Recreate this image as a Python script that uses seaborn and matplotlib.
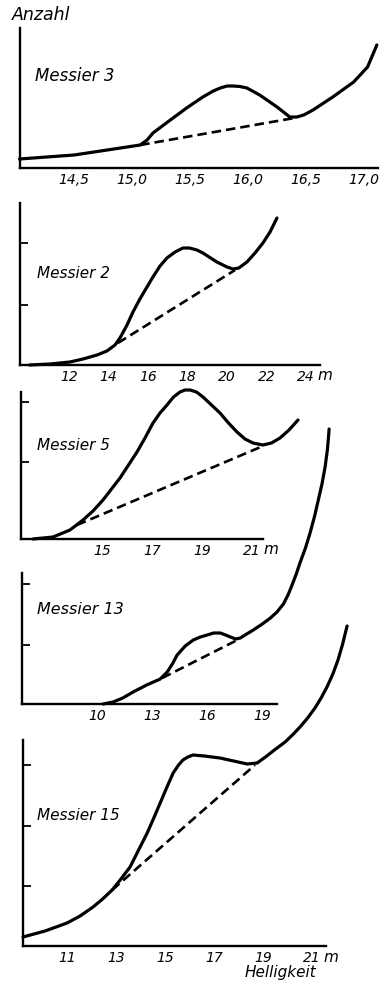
import matplotlib
matplotlib.use("Agg")
import matplotlib.pyplot as plt
import pandas as pd
import seaborn as sns

# Luminosity functions of five globular clusters: number of stars (Anzahl)
# against apparent magnitude (Helligkeit). Dashed lines mark the
# extrapolated smooth background beneath the hump.

m3_mag = [14.03, 14.50, 14.90, 15.07, 15.13, 15.18, 15.33, 15.47, 15.61, 15.70,
          15.76, 15.82, 15.87, 15.93, 15.99, 16.10, 16.25, 16.36, 16.42, 16.48,
          16.56, 16.73, 16.91, 17.03, 17.11]
m3_cnt = [9, 13, 20, 23, 28, 35, 48, 60, 71, 77,
          80, 82, 82, 81.5, 80, 73, 61, 51, 51, 53,
          58, 71, 86, 101, 123]
m3_base_mag = [15.07, 16.40]
m3_base_cnt = [23, 50]
m3_xticks = [14.5, 15.0, 15.5, 16.0, 16.5, 17.0]
m3_xlabels = ["14,5", "15,0", "15,5", "16,0", "16,5", "17,0"]
m3_yticks = []

m2_mag = [10.00, 11.04, 12.05, 12.71, 13.42, 13.92, 14.33, 14.58, 14.94, 15.24,
          15.59, 15.95, 16.25, 16.61, 16.96, 17.37, 17.77, 18.10, 18.48, 18.78,
          19.49, 20.00, 20.30, 20.60, 21.01, 21.42, 21.82, 22.18, 22.53]
m2_cnt = [0, 1, 3, 6, 10, 14, 20, 27, 40, 53,
          66, 78, 88, 99, 107, 113, 117, 117, 115, 112,
          103, 98, 96, 97, 103, 112, 122, 133, 147]
m2_base_mag = [14.48, 20.41]
m2_base_cnt = [22, 95]
m2_xticks = [12, 14, 16, 18, 20, 22, 24]
m2_xlabels = ["12", "14", "16", "18", "20", "22", "24"]
m2_yticks = [60, 122]

m5_mag = [12.24, 13.04, 13.72, 14.24, 14.64, 15.04, 15.38, 15.72, 16.06, 16.40,
          16.72, 17.04, 17.32, 17.60, 17.86, 18.12, 18.32, 18.52, 18.78, 19.04,
          19.38, 19.72, 20.06, 20.40, 20.72, 21.04, 21.44, 21.78, 22.12, 22.48,
          22.84]
m5_cnt = [0, 2, 9, 19, 28, 39, 50, 61, 74, 87,
          101, 116, 126, 134, 142, 147, 149, 149, 147, 142,
          134, 126, 116, 107, 100, 96, 94, 96, 101, 109,
          119]
m5_base_mag = [14.00, 21.44]
m5_base_cnt = [14, 93]
m5_xticks = [15, 17, 19, 21]
m5_xlabels = ["15", "17", "19", "21"]
m5_yticks = [77, 137]

m13_mag = [10.33, 10.87, 11.40, 11.96, 12.70, 13.44, 13.82, 14.10, 14.36, 14.80,
           15.24, 15.62, 16.00, 16.35, 16.71, 17.00, 17.26, 17.55, 17.80, 18.15,
           18.51, 19.00, 19.44, 19.80, 20.15, 20.40, 20.60, 20.85, 21.05, 21.35,
           21.60, 21.85, 22.05, 22.25, 22.42, 22.55, 22.64]
m13_cnt = [0, 2, 6, 12, 19, 25, 32, 40, 49, 58,
           64, 67, 69, 71, 71, 69, 67, 65, 66, 70,
           74, 80, 86, 92, 100, 109, 118, 130, 141, 156,
           171, 188, 204, 220, 237, 255, 275]
m13_base_mag = [13.55, 17.64]
m13_base_cnt = [26, 64]
m13_xticks = [10, 13, 16, 19]
m13_xlabels = ["10", "13", "16", "19"]
m13_yticks = [59, 120]

m15_mag = [9.20, 10.10, 11.00, 11.53, 12.06, 12.45, 12.84, 13.20, 13.57, 13.92,
           14.27, 14.54, 14.80, 15.06, 15.33, 15.55, 15.73, 15.93, 16.14, 16.60,
           17.24, 17.80, 18.35, 18.76, 19.10, 19.41, 19.90, 20.20, 20.51, 20.82,
           21.12, 21.37, 21.61, 21.85, 22.06, 22.25, 22.43]
m15_cnt = [9, 15, 23, 30, 39, 47, 56, 67, 79, 96,
           113, 128, 143, 158, 173, 181, 186, 189, 191, 190,
           188, 185, 182, 183, 189, 195, 204, 211, 219, 228,
           238, 248, 259, 272, 286, 302, 320]
m15_base_mag = [12.84, 18.67]
m15_base_cnt = [56, 181]
m15_xticks = [11, 13, 15, 17, 19, 21]
m15_xlabels = ["11", "13", "15", "17", "19", "21"]
m15_yticks = [60, 120, 181]

names = ["Messier 3", "Messier 2", "Messier 5", "Messier 13", "Messier 15"]

sns.set_theme(style="white")
plt.rcParams["font.family"] = ["DejaVu Sans"]
plt.rcParams["font.style"] = "italic"

W, H = 384, 983
fig = plt.figure(figsize=(W / 100, H / 100), dpi=100)
fig.patch.set_facecolor("white")


def frame(left, right, top, bottom):
    return [left / W, 1 - bottom / H, (right - left) / W, (bottom - top) / H]


def fx(px):
    return px / W


def fy(py):
    return 1 - py / H


panels = [
    dict(mag=m3_mag, cnt=m3_cnt, bmag=m3_base_mag, bcnt=m3_base_cnt,
         xt=m3_xticks, xl=m3_xlabels, yt=m3_yticks,
         rect=frame(20, 378, 28, 168), xlim=(14.034, 17.12), ylim=(0, 140),
         label=(35, 76, 12)),
    dict(mag=m2_mag, cnt=m2_cnt, bmag=m2_base_mag, bcnt=m2_base_cnt,
         xt=m2_xticks, xl=m2_xlabels, yt=m2_yticks,
         rect=frame(20, 320, 203, 365), xlim=(9.52, 24.71), ylim=(0, 162),
         label=(37, 273, 11)),
    dict(mag=m5_mag, cnt=m5_cnt, bmag=m5_base_mag, bcnt=m5_base_cnt,
         xt=m5_xticks, xl=m5_xlabels, yt=m5_yticks,
         rect=frame(21, 263, 392, 539), xlim=(11.76, 21.44), ylim=(0, 147),
         label=(37, 445, 11)),
    dict(mag=m13_mag, cnt=m13_cnt, bmag=m13_base_mag, bcnt=m13_base_cnt,
         xt=m13_xticks, xl=m13_xlabels, yt=m13_yticks,
         rect=frame(22, 277, 573, 704), xlim=(5.91, 19.8), ylim=(0, 131),
         label=(37, 610, 11.5)),
    dict(mag=m15_mag, cnt=m15_cnt, bmag=m15_base_mag, bcnt=m15_base_cnt,
         xt=m15_xticks, xl=m15_xlabels, yt=m15_yticks,
         rect=frame(23, 326, 740, 946), xlim=(9.20, 21.57), ylim=(0, 206),
         label=(37, 815, 11)),
]

for name, p in zip(names, panels):
    ax = fig.add_axes(p["rect"])
    ax.set_facecolor("none")

    curve = pd.DataFrame({"Helligkeit": p["mag"], "Anzahl": p["cnt"]})
    base = pd.DataFrame({"Helligkeit": p["bmag"], "Anzahl": p["bcnt"]})

    sns.lineplot(data=curve, x="Helligkeit", y="Anzahl", ax=ax, color="black",
                 lw=2.3, estimator=None, sort=False, clip_on=False,
                 solid_capstyle="round", solid_joinstyle="round")
    sns.lineplot(data=base, x="Helligkeit", y="Anzahl", ax=ax, color="black",
                 lw=1.9, estimator=None, sort=False, clip_on=False,
                 linestyle=(0, (3.6, 1.9)))

    ax.set_xlim(*p["xlim"])
    ax.set_ylim(*p["ylim"])
    ax.set_xticks(p["xt"])
    ax.set_xticklabels(p["xl"])
    ax.set_yticks(p["yt"])
    ax.set_yticklabels([])
    ax.set_xlabel("")
    ax.set_ylabel("")

    for side in ("top", "right"):
        ax.spines[side].set_visible(False)
    for side in ("left", "bottom"):
        ax.spines[side].set_color("black")
        ax.spines[side].set_linewidth(1.7)

    ax.tick_params(axis="both", direction="in", length=6, width=1.3,
                   color="black", labelcolor="black", labelsize=10, pad=3.5)
    ax.tick_params(axis="y", left=bool(p["yt"]))
    for t in ax.get_xticklabels():
        t.set_fontstyle("italic")

    lx, ly, ls = p["label"]
    fig.text(fx(lx), fy(ly), name, ha="left", va="center",
             fontsize=ls, style="italic", color="black")

# magnitude unit after the last tick label
for ux, uy in [(325, 376), (271, 550), (331, 958)]:
    fig.text(fx(ux), fy(uy), "m", ha="center", va="center",
             fontsize=11, style="italic", color="black")

fig.text(fx(12), fy(15), "Anzahl", ha="left", va="center",
         fontsize=12.5, style="italic", color="black")
fig.text(fx(245), fy(973), "Helligkeit", ha="left", va="center",
         fontsize=11, style="italic", color="black")

fig.savefig("out.png", dpi=100, facecolor="white")
